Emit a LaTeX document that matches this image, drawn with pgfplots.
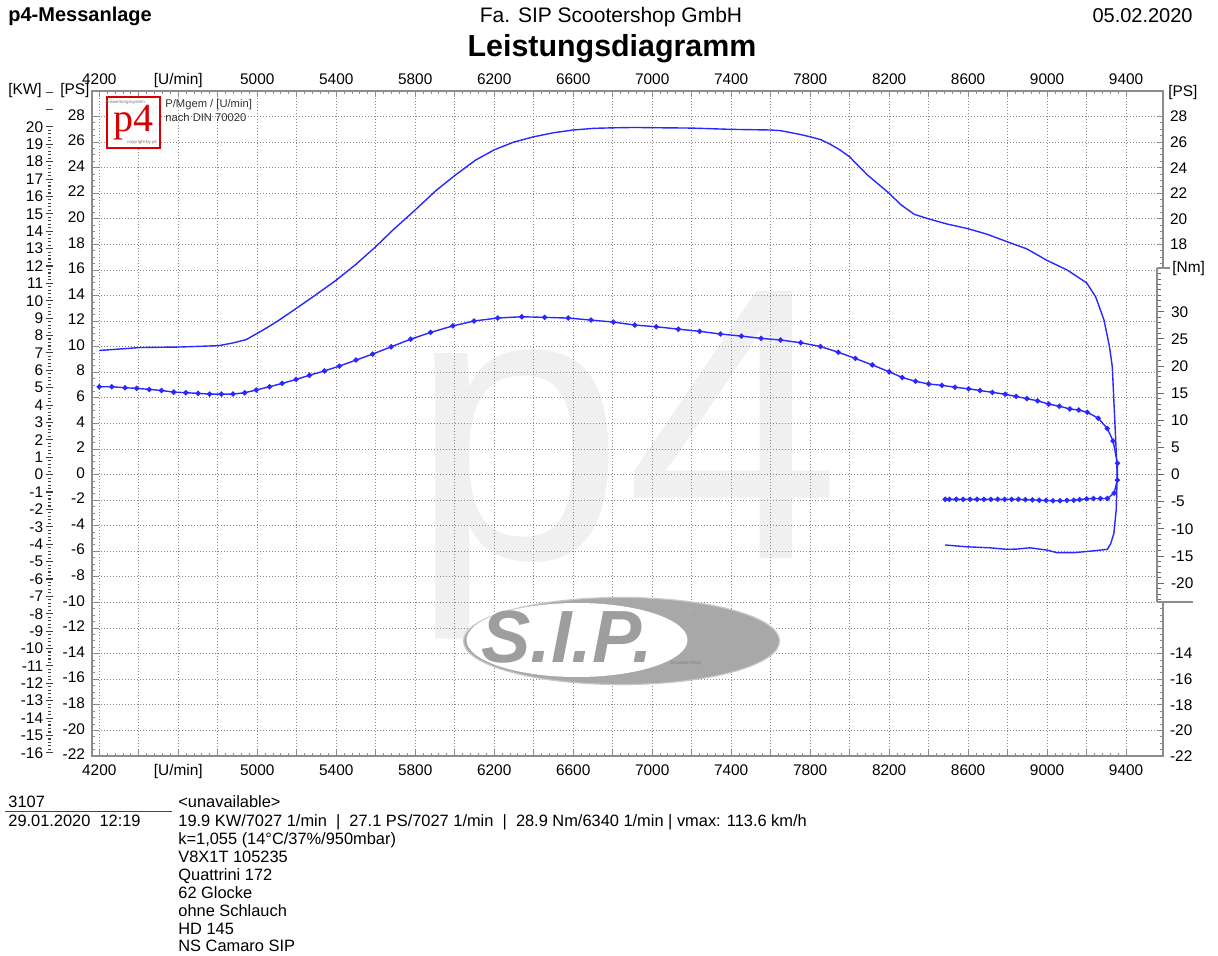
\documentclass[border=0pt]{standalone}
\usepackage{fontspec}
\setmainfont{Liberation Sans}
\newfontfamily\serifp{Liberation Serif}
\usepackage{pgfplots}
\pgfplotsset{compat=1.18}
\definecolor{curve}{RGB}{40,40,255}
\definecolor{framegray}{RGB}{140,140,140}
\definecolor{gridgray}{RGB}{135,135,135}
\definecolor{wm}{RGB}{240,240,240}
\definecolor{logogray}{RGB}{168,168,168}
\definecolor{p4red}{RGB}{215,0,0}
\definecolor{footblue}{RGB}{51,51,204}
\newcommand{\tl}{\fontsize{7.7}{9}\selectfont}
\newcommand{\ft}{\fontsize{8.2}{9}\selectfont}

\pgfplotstableread{
rpm ps
4200 9.71
4300 9.82
4405 9.94
4500 9.96
4604 9.98
4700 10.03
4806 10.09
4877 10.30
4944 10.56
5003 11.08
5050 11.50
5096 11.94
5150 12.50
5200 13.03
5298 14.08
5399 15.20
5500 16.45
5598 17.80
5685 19.10
5800 20.70
5904 22.20
6001 23.40
6106 24.60
6200 25.40
6298 26.00
6400 26.42
6502 26.74
6600 26.95
6703 27.08
6800 27.12
6912 27.15
7000 27.13
7200 27.10
7400 27.00
7600 26.95
7650 26.90
7750 26.60
7800 26.42
7853 26.20
7900 25.85
7950 25.40
8000 24.85
8089 23.45
8200 22.00
8260 21.10
8328 20.35
8400 20.00
8493 19.60
8600 19.23
8696 18.80
8800 18.20
8898 17.65
9000 16.75
9102 16.00
9200 15.00
9246 13.90
9288 12.10
9316 10.00
9330 8.45
9342 4.50
9348 2.50
9355 0.00
9350 -2.75
9338 -4.60
9322 -5.40
9305 -5.84
9220 -5.98
9135 -6.10
9051 -6.10
9000 -5.90
8913 -5.72
8846 -5.82
8795 -5.84
8711 -5.72
8593 -5.64
8484 -5.50
}\powertable

\pgfplotstableread{
rpm nm
4200 16.19
4263 16.19
4330 16.00
4389 15.90
4453 15.70
4515 15.50
4577 15.20
4638 15.10
4700 14.97
4759 14.84
4818 14.84
4877 14.84
4936 15.08
4995 15.60
5062 16.20
5126 16.80
5197 17.55
5264 18.30
5340 19.10
5416 20.00
5500 21.10
5584 22.20
5678 23.55
5777 24.95
5878 26.20
5991 27.40
6098 28.30
6218 28.85
6340 29.08
6455 28.97
6575 28.84
6690 28.47
6803 28.10
6912 27.55
7020 27.24
7132 26.80
7240 26.40
7346 25.90
7452 25.52
7552 25.10
7650 24.80
7752 24.30
7852 23.60
7942 22.55
8029 21.40
8115 20.20
8200 18.95
8266 17.90
8333 17.20
8400 16.70
8467 16.45
8534 16.10
8603 15.80
8660 15.50
8723 15.16
8788 14.80
8843 14.40
8898 14.00
8952 13.60
9008 13.00
9062 12.60
9115 12.10
9160 11.90
9203 11.50
9259 10.40
9305 8.50
9334 6.20
9356 2.10
9356 -1.00
9339 -3.40
9305 -4.40
9270 -4.40
9235 -4.40
9200 -4.45
9165 -4.60
9135 -4.70
9100 -4.75
9065 -4.80
9030 -4.80
8995 -4.75
8960 -4.70
8925 -4.65
8890 -4.60
8855 -4.55
8820 -4.55
8785 -4.55
8750 -4.55
8715 -4.55
8680 -4.55
8645 -4.55
8610 -4.55
8575 -4.55
8540 -4.55
8505 -4.55
8484 -4.55
}\torquetable

\begin{document}
\begin{tikzpicture}[x=0.5pt,y=-0.5pt]
\useasboundingbox (0,0) rectangle (1218,956);
\fill[white] (0,0) rectangle (1218,956);

% header
\node[anchor=base west, inner sep=0, font=\fontsize{10}{12}\selectfont\bfseries] at (8,22) {p4-Messanlage};
\node[anchor=base, inner sep=0, font=\fontsize{10.5}{12}\selectfont] at (611,23) {Fa. SIP Scootershop GmbH};
\node[anchor=base east, inner sep=0, font=\fontsize{10}{12}\selectfont] at (1193,23) {05.02.2020};
\node[anchor=base, inner sep=0, font=\fontsize{15.2}{18}\selectfont\bfseries] at (612,57) {Leistungsdiagramm};

% watermark
\node[anchor=base west, inner sep=0, text=wm, font=\fontsize{194}{194}\selectfont] at (409,558) {p4};

% kW ruler
\begin{axis}[at={(24.5pt,-378pt)}, anchor=south west, scale only axis,
  width=5pt, height=332.5pt, xmin=0, xmax=1, ymin=-16.181, ymax=22.065,
  hide x axis, axis y line*=left, y axis line style={draw=none},
  ytick={-16,...,20}, extra y ticks={21,22}, extra y tick labels={},
  minor y tick num=4, tick align=center,
  major tick length=3.5pt, minor tick length=1.5pt,
  tick style={black!75, line width=0.55pt},
  yticklabel style={font=\tl, inner sep=1pt},
  /pgf/number format/assume math mode=true]
\end{axis}

% main PS axis
\begin{axis}[at={(46pt,-378pt)}, anchor=south west, scale only axis,
  width=535.5pt, height=332.5pt,
  xmin=4163, xmax=9587, ymin=-22, ymax=30,
  xtick={4200,4400,...,9400},
  xticklabels={4200,,{[U/min]},,5000,,5400,,5800,,6200,,6600,,7000,,7400,,7800,,8200,,8600,,9000,,9400},
  ytick={-22,-20,...,28},
  minor x tick num=4, minor y tick num=3,
  tick align=inside, xtick pos=both, ytick pos=both,
  xticklabel pos=left, yticklabel pos=left,
  major tick length=3pt, minor tick length=1.5pt,
  grid=major, major grid style={gridgray, line width=0.5pt, dash pattern=on 0.5pt off 1pt},
  axis line style={framegray, line width=0.9pt},
  tick style={framegray, line width=0.5pt},
  ticklabel style={font=\tl},
  typeset ticklabels with strut,
  /pgf/number format/assume math mode=true]
\addplot[curve, line width=0.7pt] table[x=rpm, y=ps] {\powertable};
\end{axis}

% SIP logo
\fill[logogray, draw=black!22, line width=0.6pt] (621.5,641) ellipse [x radius=79pt, y radius=21.75pt];
\fill[white] (577,640) ellipse [x radius=55.25pt, y radius=18.5pt];
\node[inner sep=0, text=black!38, font=\fontsize{37}{37}\selectfont\bfseries\itshape] at (567,637) {S.I.P.};
\node[inner sep=0, text=black!30, font=\fontsize{3.5}{4}\selectfont] at (690,610) {®};
\node[anchor=west, inner sep=0, text=black!45, font=\fontsize{2.5}{3}\selectfont\bfseries] at (670,663) {Scootershop};

% torque overlay + top labels
\begin{axis}[at={(46pt,-378pt)}, anchor=south west, scale only axis,
  width=535.5pt, height=332.5pt,
  xmin=4163, xmax=9587, ymin=-51.82, ymax=70.66,
  hide y axis, axis line style={draw=none},
  xtick={4200,4400,...,9400},
  xticklabels={4200,,{[U/min]},,5000,,5400,,5800,,6200,,6600,,7000,,7400,,7800,,8200,,8600,,9000,,9400},
  xtick pos=right, xticklabel pos=right,
  major tick length=0pt, xtick style={draw=none},
  xticklabel style={font=\tl, yshift=-2.8pt},
  typeset ticklabels with strut]
\addplot[curve, line width=0.7pt, mark=*, mark size=0.95pt] table[x=rpm, y=nm] {\torquetable};
\end{axis}

% right PS labels
\begin{axis}[at={(46pt,-378pt)}, anchor=south west, scale only axis,
  width=535.5pt, height=332.5pt,
  xmin=4163, xmax=9587, ymin=-22, ymax=30,
  hide x axis, axis line style={draw=none},
  ytick={-22,-20,-18,-16,-14,18,20,22,24,26,28},
  ytick pos=right, yticklabel pos=right,
  major tick length=0pt, ytick style={draw=none},
  ticklabel style={font=\tl},
  /pgf/number format/assume math mode=true]
\end{axis}

% Nm ruler
\fill[white] (1157.8,267) rectangle (1217,602);
\begin{axis}[at={(578.5pt,-301pt)}, anchor=south east, scale only axis,
  width=5pt, height=167pt, xmin=0, xmax=1, ymin=-23.46, ymax=38.05,
  hide x axis, axis y line*=right, y axis line style={framegray, line width=0.9pt},
  ytick={-20,-15,...,30}, minor ytick={-23,...,38},
  tick align=outside, major tick length=3.5pt, minor tick length=2pt,
  tick style={black!60, line width=0.5pt},
  yticklabel style={font=\tl},
  /pgf/number format/assume math mode=true]
\end{axis}
\draw[framegray, line width=0.9pt] (1157,268) -- (1170,268);
\draw[framegray, line width=0.9pt] (1157,602) -- (1193,602);
\node[anchor=west, font=\tl, inner sep=0] at (1172,269) {[Nm]};

% unit labels
\node[anchor=base west, font=\tl, inner sep=0] at (8,95) {[KW]};
\node[anchor=base west, font=\tl, inner sep=0] at (60,95) {[PS]};
\node[anchor=base west, font=\tl, inner sep=0] at (1168,97) {[PS]};

% p4 logo
\draw[p4red, line width=1.1pt, fill=white] (107,97) rectangle (160,148);
\node[anchor=base, inner sep=0, text height=0.66em, text depth=0.1em, text=p4red, font=\serifp\fontsize{20}{20}\selectfont] at (133.5,132) {p4};
\node[inner sep=0, text=black!55, font=\fontsize{2.2}{3}\selectfont] at (125,102) {Auswertungssystem};
\node[inner sep=0, text=black!55, font=\fontsize{2.2}{3}\selectfont] at (142,142) {copyright by p4};
\node[anchor=base west, inner sep=0, font=\fontsize{5.6}{6}\selectfont, text=black!80] at (165,108) {P/Mgem / [U/min]};
\node[anchor=base west, inner sep=0, font=\fontsize{5.6}{6}\selectfont, text=black!80] at (165,122) {nach DIN 70020};

% footer
\node[anchor=base west, inner sep=0, font=\ft] at (8,807) {3107};
\draw[footblue, line width=0.5pt] (5,811.5) -- (172,811.5);
\node[anchor=base west, inner sep=0, font=\ft] at (8,826) {29.01.2020\ \ 12:19};
\node[anchor=base west, inner sep=0, font=\ft] at (178,807) {<unavailable>};
\node[anchor=base west, inner sep=0, font=\ft] at (178,826) {19.9 KW/7027 1/min\ \ |\ \ 27.1 PS/7027 1/min\ \ |\ \ 28.9 Nm/6340 1/min | vmax: 113.6 km/h};
\node[anchor=base west, inner sep=0, font=\ft] at (178,844) {k=1,055 (14°C/37\%/950mbar)};
\node[anchor=base west, inner sep=0, font=\ft] at (178,862) {V8X1T 105235};
\node[anchor=base west, inner sep=0, font=\ft] at (178,880) {Quattrini 172};
\node[anchor=base west, inner sep=0, font=\ft] at (178,898) {62 Glocke};
\node[anchor=base west, inner sep=0, font=\ft] at (178,916) {ohne Schlauch};
\node[anchor=base west, inner sep=0, font=\ft] at (178,934) {HD 145};
\node[anchor=base west, inner sep=0, font=\ft] at (178,951) {NS Camaro SIP};
\end{tikzpicture}
\end{document}
